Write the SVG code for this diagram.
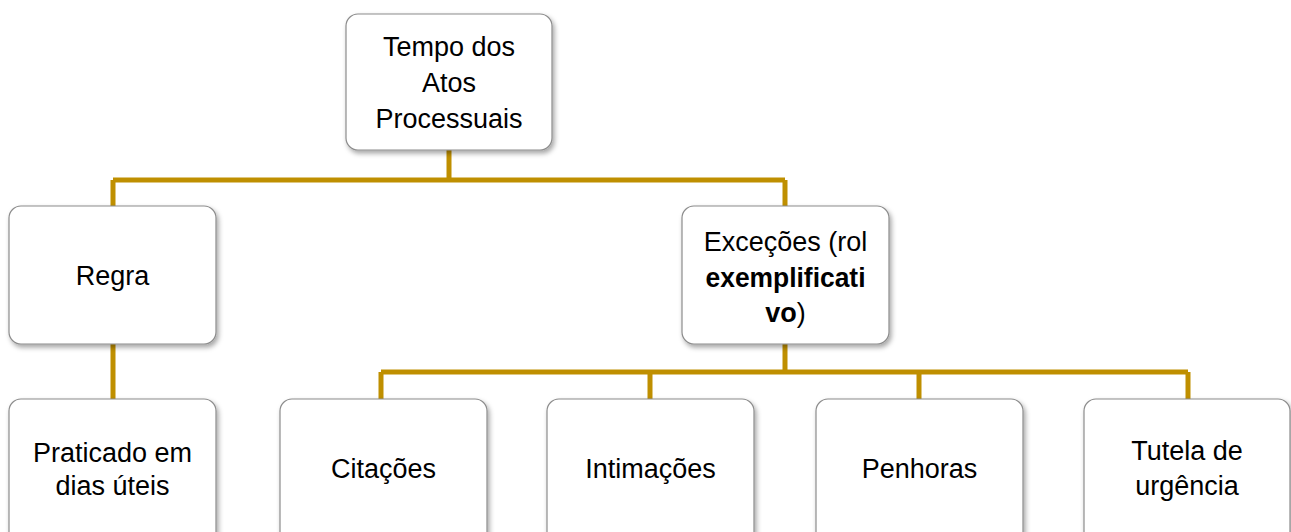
<svg xmlns="http://www.w3.org/2000/svg" width="1291" height="532" viewBox="0 0 1291 532">
<style>
.box{fill:#ffffff;stroke:#8c8c8c;stroke-width:1.2;filter:url(#sh)}
.t{font-family:"Liberation Sans",Arial,sans-serif;font-size:27px;fill:#000;text-anchor:middle}
.b{font-weight:bold}
.c{fill:none;stroke:#BF8F00;stroke-width:5}
</style>
<defs>
<filter id="sh" x="-10%" y="-10%" width="125%" height="130%">
<feDropShadow dx="2" dy="3" stdDeviation="2.5" flood-color="#000" flood-opacity="0.35"/>
</filter>
</defs>
<rect width="1291" height="532" fill="#ffffff"/>
<g id="connectors">
<path class="c" d="M449 150V180M113 180H785M113 180V206M785 180V206M113 344V399M785 344V372M381 372H1188M381 372V399M650 372V399M919 372V399M1188 372V399"/>
</g>
<g id="n-tempo">
<rect class="box" x="346" y="14" width="206" height="136" rx="12"/>
<text class="t" x="449" y="56">Tempo dos</text>
<text class="t" x="449" y="92">Atos</text>
<text class="t" x="449" y="128">Processuais</text>
</g>
<g id="n-regra">
<rect class="box" x="9" y="206" width="207" height="138" rx="12"/>
<text class="t" x="112.5" y="285">Regra</text>
</g>
<g id="n-excecoes">
<rect class="box" x="682" y="206" width="207" height="138" rx="12"/>
<text class="t" x="785.5" y="251">Exceções (rol</text>
<text class="t b" x="785.5" y="287" textLength="160" lengthAdjust="spacingAndGlyphs">exemplificati</text>
<text class="t" x="785.5" y="322"><tspan class="b">vo</tspan>)</text>
</g>
<g id="n-praticado">
<rect class="box" x="9" y="399" width="207" height="145" rx="12"/>
<text class="t" x="112.5" y="462">Praticado em</text>
<text class="t" x="112.5" y="495">dias úteis</text>
</g>
<g id="n-citacoes">
<rect class="box" x="280" y="399" width="207" height="145" rx="12"/>
<text class="t" x="383.5" y="478">Citações</text>
</g>
<g id="n-intimacoes">
<rect class="box" x="547" y="399" width="207" height="145" rx="12"/>
<text class="t" x="650.5" y="478">Intimações</text>
</g>
<g id="n-penhoras">
<rect class="box" x="816" y="399" width="207" height="145" rx="12"/>
<text class="t" x="919.5" y="478">Penhoras</text>
</g>
<g id="n-tutela">
<rect class="box" x="1084" y="399" width="206" height="145" rx="12"/>
<text class="t" x="1187" y="460">Tutela de</text>
<text class="t" x="1187" y="495">urgência</text>
</g>
</svg>
